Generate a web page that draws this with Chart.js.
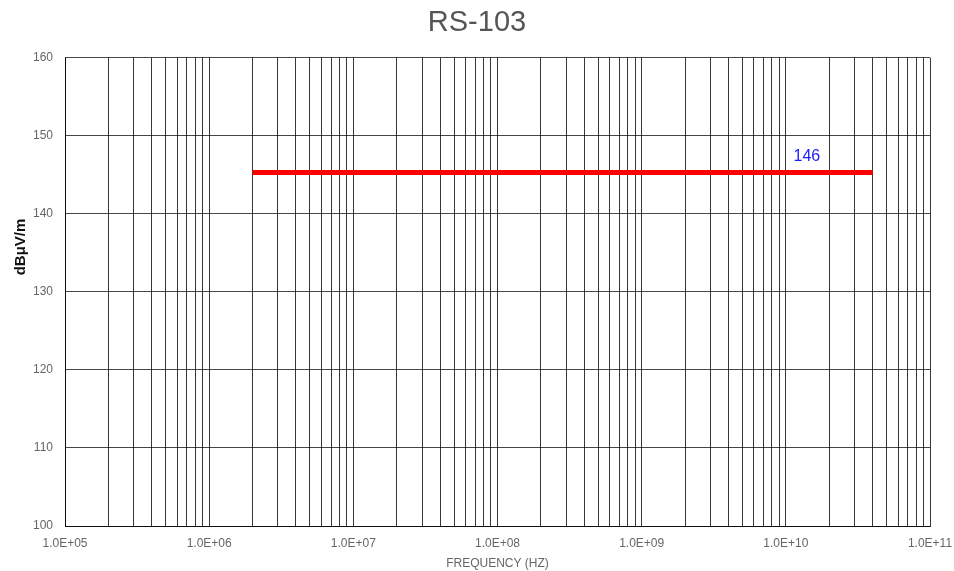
<!DOCTYPE html>
<html>
<head>
<meta charset="utf-8">
<script src="https://cdn.jsdelivr.net/npm/chart.js@4.4.1/dist/chart.umd.min.js"></script>
<style>
html,body{margin:0;padding:0;background:#fff;}
#wrap{width:954px;height:571px;}
</style>
</head>
<body>
<div id="wrap"><canvas id="c" width="954" height="571"></canvas></div>
<script>
// Data
const chartTitle = "RS-103";
const xAxisTitle = "FREQUENCY (HZ)";
const yAxisTitle = "dBμV/m";
const limitFreqs = [2e6, 4e10];
const limitLevels = [145.3, 145.3];
const limitLabel = "146";
const limitLabelPos = [1.4e10, 147.3];
const xDecades = [1e5, 1e6, 1e7, 1e8, 1e9, 1e10, 1e11];
const yTicks = [100, 110, 120, 130, 140, 150, 160];

const xTickValues = [];
for (let i = 0; i < xDecades.length; i++) {
  const d = xDecades[i];
  xTickValues.push(d);
  if (i < xDecades.length - 1) for (let m = 2; m <= 9; m++) xTickValues.push(d * m);
}

const FONT = '"Liberation Sans", Arial, sans-serif';

const labelPlugin = {
  id: 'limitLabel',
  afterDatasetsDraw(chart) {
    const {ctx, scales} = chart;
    const x = scales.x.getPixelForValue(limitLabelPos[0]);
    const y = scales.y.getPixelForValue(limitLabelPos[1]);
    ctx.save();
    ctx.fillStyle = '#1a1aff';
    ctx.font = '16px ' + FONT;
    ctx.textAlign = 'center';
    ctx.textBaseline = 'middle';
    ctx.fillText(limitLabel, x, y);
    // y axis title
    ctx.fillStyle = '#111111';
    ctx.font = 'bold 15px ' + FONT;
    ctx.translate(21, 247);
    ctx.rotate(-Math.PI / 2);
    ctx.fillText(yAxisTitle, 0, 0);
    ctx.restore();
  }
};

new Chart(document.getElementById('c'), {
  type: 'line',
  data: {
    datasets: [{
      data: limitFreqs.map((f, i) => ({x: f, y: limitLevels[i]})),
      borderColor: '#ff0000',
      borderWidth: 5,
      pointRadius: 0,
      fill: false,
      tension: 0
    }]
  },
  options: {
    responsive: false,
    animation: false,
    layout: {padding: {left: 0, right: 0, top: 0, bottom: 0}},
    plugins: {
      legend: {display: false},
      tooltip: {enabled: false},
      title: {
        display: true,
        text: chartTitle,
        color: '#555555',
        font: {family: FONT, size: 29, weight: 'normal'},
        padding: {top: 6, bottom: 17}
      }
    },
    scales: {
      x: {
        type: 'logarithmic',
        min: 1e5,
        max: 1e11,
        afterBuildTicks(scale) {
          scale.ticks = xTickValues.map(v => ({value: v}));
        },
        afterFit(scale) { scale.height = 45; scale.paddingRight = 24; },
        grid: {color: 'rgba(0,0,0,0.78)', lineWidth: 1, drawTicks: false},
        border: {color: 'rgba(0,0,0,0.78)'},
        ticks: {
          autoSkip: false,
          maxRotation: 0,
          padding: 10,
          color: '#666666',
          font: {family: FONT, size: 12},
          callback(value) {
            const l = Math.log10(value);
            if (Math.abs(l - Math.round(l)) < 1e-9) {
              const e = Math.round(l);
              return '1.0E+' + (e < 10 ? '0' + e : e);
            }
            return '';
          }
        },
        title: {
          display: true,
          text: xAxisTitle,
          color: '#666666',
          font: {family: FONT, size: 12},
          padding: {top: 2, bottom: 0}
        }
      },
      y: {
        min: 100,
        max: 160,
        afterBuildTicks(scale) {
          scale.ticks = yTicks.map(v => ({value: v}));
        },
        afterFit(scale) { scale.width = 65; },
        grid: {color: 'rgba(0,0,0,0.72)', lineWidth: 1, drawTicks: false},
        border: {color: 'rgba(0,0,0,0.78)'},
        ticks: {
          padding: 12,
          color: '#666666',
          font: {family: FONT, size: 12}
        }
      }
    }
  },
  plugins: [labelPlugin]
});
</script>
</body>
</html>
